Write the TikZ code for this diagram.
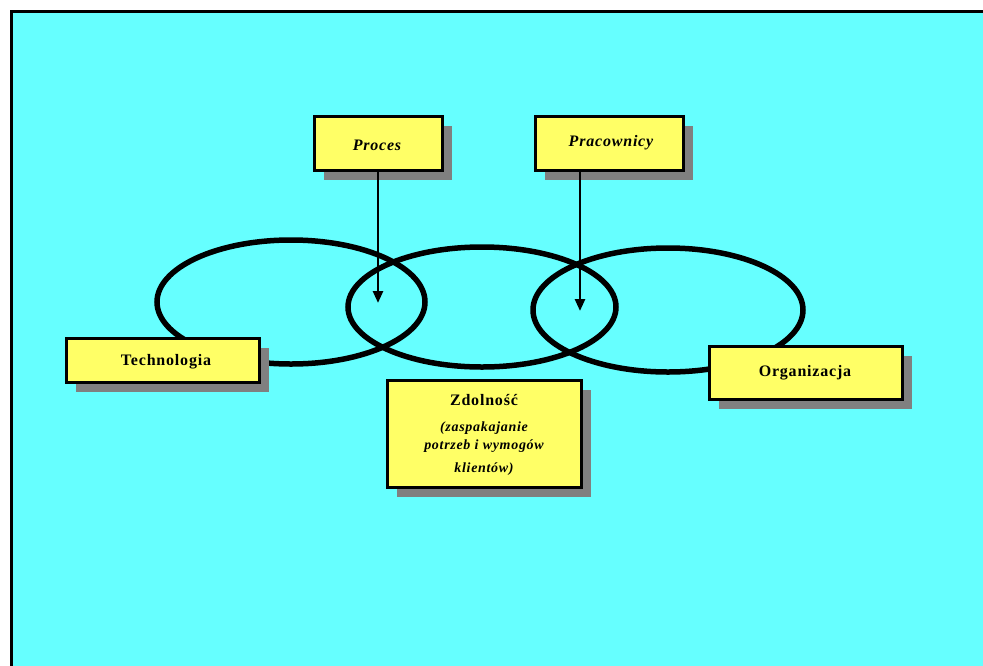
\documentclass[tikz,border=0pt]{standalone}
\usepackage{fontspec}
\setmainfont{Liberation Serif}
\newfontfamily\spaced[LetterSpace=5]{Liberation Serif}
\usetikzlibrary{arrows.meta}
\definecolor{bgcyan}{HTML}{66FFFF}
\definecolor{boxyellow}{HTML}{FFFF66}
\definecolor{shadowgray}{HTML}{808080}
\tikzset{
  x=1pt, y=-1pt,
  ring/.style={draw=black, line width=5.5pt},
  labelbox/.style={draw=black, line width=3pt, fill=boxyellow},
  boxshadow/.style={fill=shadowgray},
  pointer/.style={draw=black, line width=2.6pt, -{Triangle[width=10pt,length=12pt]}},
  labeltext/.style={font=\spaced\bfseries\fontsize{16}{18}\selectfont},
  itext/.style={font=\spaced\bfseries\itshape\fontsize{16}{18}\selectfont},
  smalltext/.style={font=\spaced\bfseries\itshape\fontsize{14}{16}\selectfont},
}
\newcommand{\shadowbox}[5]{%
  % #1 name, #2 x1, #3 y1, #4 x2, #5 y2
  \fill[boxshadow] (#2+10,#3+10) rectangle (#4+10,#5+10);
  \draw[labelbox] (#2,#3) rectangle (#4,#5);
  \coordinate (#1) at ({(#2+#4)/2},{(#3+#5)/2});
}
\begin{document}
\begin{tikzpicture}
\useasboundingbox (0,0) rectangle (983,665);
% page background and frame
\fill[white] (0,0) rectangle (983,665);
\fill[bgcyan] (11,11) rectangle (990,672);
\draw[black, line width=3pt] (11,672) -- (11,11) -- (990,11);

% three interlocking rings
\draw[ring] (291,302) ellipse [x radius=134, y radius=62];
\draw[ring] (482,307) ellipse [x radius=134, y radius=60];
\draw[ring] (668,310) ellipse [x radius=135, y radius=62];

% labelled boxes
\shadowbox{proces}{314}{116}{442}{170}
\shadowbox{prac}{535}{116}{683}{170}
\shadowbox{tech}{66}{338}{259}{382}
\shadowbox{org}{709}{346}{902}{399}
\shadowbox{zdol}{387}{380}{581}{487}

\node[itext] (tproces) at (377,145) {Proces};
\node[itext] (tprac) at (611,143) {Pracownicy};
\node[labeltext] (ttech) at (166,362) {Technologia};
\node[labeltext] (torg) at (805,373) {Organizacja};
\node[labeltext] (tzdol) at (484,400) {Zdolność};
\node[smalltext] (tz1) at (484,428) {(zaspakajanie};
\node[smalltext] (tz2) at (484,446) {potrzeb i wymogów};
\node[smalltext] (tz3) at (484,469) {klientów)};

% arrows into the ring overlaps
\coordinate (pin) at (378,303);
\coordinate (qin) at (580,311);
\draw[pointer] (378,170) -- (pin);
\draw[pointer] (580,170) -- (qin);
\end{tikzpicture}
\end{document}
